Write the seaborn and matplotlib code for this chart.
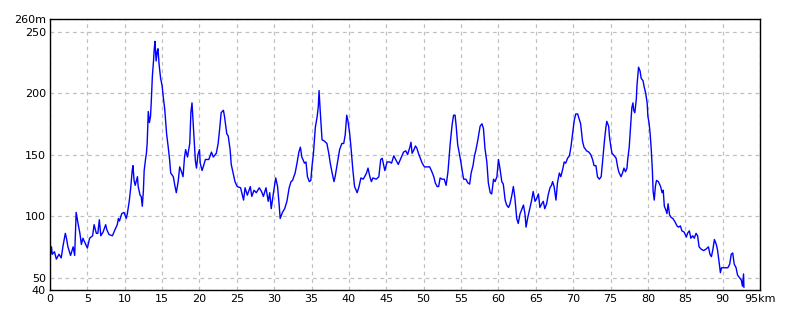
import matplotlib
matplotlib.use("Agg")
import matplotlib.pyplot as plt
import seaborn as sns

# distance (km) and elevation (m)
km = [0.0, 0.05, 0.2, 0.3, 0.6, 0.85, 1.2, 1.5, 1.75, 2.05, 2.2, 2.4, 2.75, 3.1, 3.3, 3.5, 3.75, 4.0, 4.2, 4.4,
      5.0, 5.3, 5.7, 5.9, 6.2, 6.4, 6.6, 6.8, 7.1, 7.45, 7.6, 7.9, 8.35, 8.7, 9.0, 9.15, 9.3, 9.6, 9.9, 10.2,
      10.35, 10.6, 10.8, 11.0, 11.1, 11.25, 11.4, 11.7, 11.8, 12.05, 12.2, 12.35, 12.5, 12.6, 12.8, 12.9, 13.0,
      13.15, 13.3, 13.45, 13.55, 13.7, 13.85, 13.95, 14.05, 14.2, 14.35, 14.45, 14.6, 14.8, 15.0, 15.15, 15.35,
      15.6, 15.8, 16.0, 16.15, 16.5, 16.7, 16.9, 17.15, 17.35, 17.6, 17.8, 18.0, 18.15, 18.4, 18.7, 18.85, 19.0,
      19.15, 19.3, 19.45, 19.6, 19.8, 20.0, 20.1, 20.35, 20.8, 21.25, 21.6, 21.85, 22.25, 22.5, 22.75, 22.9,
      23.2, 23.35, 23.65, 23.85, 24.1, 24.25, 24.5, 24.75, 25.05, 25.5, 25.9, 26.1, 26.4, 26.8, 27.0, 27.3,
      27.6, 28.0, 28.3, 28.55, 28.9, 29.2, 29.4, 29.6, 29.9, 30.2, 30.45, 30.65, 30.8, 31.1, 31.4, 31.7, 32.0,
      32.25, 32.45, 32.8, 33.05, 33.3, 33.5, 33.7, 34.05, 34.25, 34.45, 34.7, 34.9, 35.05, 35.25, 35.5, 35.75,
      35.9, 36.0, 36.15, 36.4, 36.7, 37.05, 37.3, 37.5, 37.75, 38.0, 38.15, 38.45, 38.75, 39.05, 39.3, 39.5,
      39.7, 39.85, 40.1, 40.3, 40.5, 40.75, 41.1, 41.35, 41.6, 41.9, 42.1, 42.35, 42.55, 42.8, 43.0, 43.2,
      43.65, 44.0, 44.25, 44.45, 44.8, 45.1, 45.45, 45.7, 46.0, 46.25, 46.6, 46.95, 47.3, 47.6, 47.85, 48.15,
      48.3, 48.45, 48.7, 48.9, 49.1, 49.3, 49.55, 49.8, 50.1, 50.45, 50.8, 51.1, 51.35, 51.55, 51.8, 52.0,
      52.2, 52.45, 52.75, 53.0, 53.25, 53.4, 53.55, 53.8, 54.0, 54.2, 54.35, 54.55, 54.8, 55.0, 55.2, 55.35,
      55.65, 55.9, 56.15, 56.35, 56.6, 56.8, 57.0, 57.25, 57.55, 57.8, 58.0, 58.2, 58.45, 58.65, 58.9, 59.1,
      59.35, 59.55, 59.8, 60.0, 60.2, 60.45, 60.65, 60.9, 61.1, 61.35, 61.55, 61.8, 62.0, 62.2, 62.45, 62.65,
      62.9, 63.1, 63.35, 63.55, 63.7, 63.9, 64.2, 64.45, 64.65, 64.9, 65.1, 65.35, 65.55, 65.8, 66.0, 66.2,
      66.45, 66.65, 66.9, 67.1, 67.25, 67.45, 67.7, 67.9, 68.15, 68.35, 68.6, 68.8, 69.0, 69.25, 69.5, 69.7,
      69.9, 70.15, 70.35, 70.6, 70.8, 71.0, 71.25, 71.45, 71.8, 72.1, 72.35, 72.6, 72.8, 73.05, 73.25, 73.5,
      73.75, 73.9, 74.05, 74.2, 74.4, 74.5, 74.75, 74.85, 75.05, 75.2, 75.5, 75.75, 75.95, 76.1, 76.4, 76.6,
      76.8, 77.0, 77.2, 77.3, 77.5, 77.7, 77.85, 78.0, 78.1, 78.25, 78.45, 78.55, 78.75, 78.95, 79.1, 79.35,
      79.5, 79.7, 79.9, 80.0, 80.15, 80.3, 80.45, 80.6, 80.7, 80.85, 81.0, 81.15, 81.4, 81.7, 81.9, 82.05,
      82.2, 82.4, 82.55, 82.7, 82.9, 83.1, 83.35, 83.65, 83.9, 84.1, 84.35, 84.55, 84.85, 85.15, 85.3, 85.55,
      85.75, 86.0, 86.2, 86.45, 86.65, 86.85, 87.15, 87.45, 87.75, 88.1, 88.3, 88.5, 88.7, 88.9, 89.15, 89.3,
      89.5, 89.7, 89.85, 90.15, 90.5, 90.7, 90.95, 91.15, 91.35, 91.55, 91.8, 92.0, 92.25, 92.5, 92.65, 92.8,
      92.85]
elev = [57, 68, 75, 69, 71, 65, 69, 66, 76, 86, 82, 75, 68, 75, 68, 103, 94, 86, 77, 82,
        74, 82, 84, 93, 86, 86, 97, 84, 87, 93, 89, 85, 84, 89, 93, 98, 96, 102, 103, 98,
        102, 112, 123, 137, 141, 129, 125, 132, 124, 117, 116, 108, 121, 137, 147, 151, 159,
        185, 176, 181, 193, 214, 226, 236, 242, 226, 234, 236, 223, 212, 206, 197, 187,
        167, 157, 146, 135, 132, 125, 119, 128, 140, 136, 132, 148, 154, 148, 159, 184, 192,
        176, 159, 145, 139, 150, 154, 143, 137, 146, 146, 152, 148, 151, 159, 174, 184,
        186, 181, 167, 165, 154, 142, 135, 128, 124, 123, 113, 123, 117, 124, 116, 121,
        119, 123, 120, 116, 123, 112, 119, 106, 119, 131, 124, 110, 98, 103, 106, 112, 123,
        128, 129, 135, 143, 152, 156, 148, 143, 144, 132, 128, 129, 140, 151, 172, 181,
        189, 202, 186, 162, 161, 159, 151, 143, 135, 128, 132, 143, 154, 159, 159, 166,
        182, 178, 167, 154, 139, 124, 119, 124, 131, 130, 132, 135, 139, 132, 128, 131,
        130, 132, 146, 147, 137, 144, 144, 143, 149, 146, 142, 147, 152, 153, 150, 156,
        160, 151, 154, 157, 155, 151, 147, 143, 140, 140, 140, 136, 132, 127, 124, 124,
        131, 130, 130, 125, 136, 148, 159, 174, 182, 182, 173, 158, 150, 143, 135, 130,
        130, 127, 126, 135, 141, 149, 154, 162, 173, 175, 171, 155, 144, 127, 119, 118,
        130, 128, 132, 146, 139, 128, 126, 113, 109, 107, 110, 117, 124, 115, 98, 94,
        102, 105, 109, 102, 91, 98, 106, 113, 120, 112, 114, 118, 107, 110, 112, 106,
        110, 117, 123, 125, 128, 124, 113, 127, 135, 132, 138, 144, 143, 147, 149, 156,
        166, 178, 183, 183, 179, 175, 161, 156, 153, 152, 150, 146, 141, 141, 132, 130,
        132, 142, 152, 162, 173, 177, 173, 165, 156, 151, 149, 147, 140, 136, 132, 135,
        139, 136, 139, 146, 156, 174, 188, 192, 186, 184, 195, 207, 221, 218, 212, 210,
        205, 200, 192, 181, 176, 167, 154, 137, 120, 113, 124, 129, 128, 124, 119, 121,
        108, 105, 102, 110, 101, 99, 98, 95, 92, 91, 92, 88, 87, 83, 86, 88,
        82, 84, 82, 86, 84, 75, 73, 72, 73, 75, 69, 67, 73, 81, 77, 73,
        64, 54, 58, 58, 58, 58, 61, 69, 70, 61, 58, 52, 50, 48, 43, 53,
        42]

x_ticks = list(range(0, 96, 5))
x_labels = [str(t) for t in x_ticks[:-1]] + ["95km"]
y_ticks = [40, 50, 100, 150, 200, 250, 260]
y_labels = ["40", "50", "100", "150", "200", "250", "260m"]

sns.set_style("white")
plt.rcParams['font.family'] = ['DejaVu Sans']

fig = plt.figure(figsize=(8, 3.2), dpi=100)
ax = fig.add_axes([0.0625, 0.094, 0.8875, 0.846])

sns.lineplot(x=km, y=elev, ax=ax, color="#0000ff", linewidth=1.0,
             estimator=None, sort=False)

ax.set_xlim(0, 95)
ax.set_ylim(40, 260)
ax.set_xticks(x_ticks)
ax.set_xticklabels(x_labels)
ax.set_yticks(y_ticks)
ax.set_yticklabels(y_labels)
ax.tick_params(axis="both", length=0, labelsize=8, pad=3, colors="black")
ax.grid(True, linestyle=(0, (3, 3)), color="#c0c0c0", linewidth=0.9)
ax.set_axisbelow(True)
for s in ax.spines.values():
    s.set_color("black")
    s.set_linewidth(1.0)
ax.set_xlabel("")
ax.set_ylabel("")

fig.savefig("out.png", dpi=100)
